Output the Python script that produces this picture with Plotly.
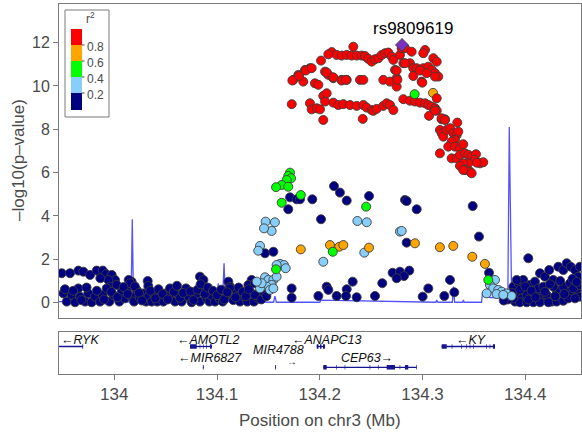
import plotly.graph_objects as go

# ---------------- data ----------------
lead_snp = "rs9809619"
lead_x = [134.2800]
lead_y = [11.89]

red_x = [134.2326, 134.2116, 134.2083, 134.2164, 134.2213, 134.2262, 134.2310, 134.2359, 134.2408, 134.2440,
         134.2472, 134.2505, 134.2537, 134.2570, 134.2603, 134.2635, 134.2667, 134.2700, 134.2716, 134.2780,
         134.2012, 134.1904, 134.1856, 134.1791, 134.1742, 134.1839, 134.2051, 134.2083, 134.2131, 134.2213,
         134.2262, 134.2391, 134.2424, 134.2618, 134.2683, 134.2748, 134.2732, 134.2813, 134.2877, 134.2910,
         134.2943, 134.2975, 134.3007, 134.3056, 134.3089, 134.3121, 134.3153, 134.2991, 134.2797, 134.2829,
         134.2894, 134.3024, 134.3007, 134.3105, 134.3138, 134.1953, 134.1986, 134.2910, 134.2998,
         134.1727, 134.1904, 134.1921, 134.1970, 134.2002, 134.2034, 134.2067, 134.2051, 134.2131, 134.2180,
         134.2229, 134.2294, 134.2359, 134.2424, 134.2456, 134.2505, 134.2521, 134.2553, 134.2618, 134.2651,
         134.2683, 134.2716, 134.2034, 134.2418,
         134.1733, 134.1798, 134.1863, 134.1921, 134.2067, 134.2131, 134.2213, 134.2255, 134.2748, 134.2755,
         134.2748, 134.2829, 134.2975, 134.3040, 134.3121,
         134.2813, 134.2877, 134.2926, 134.2975, 134.3024, 134.3056, 134.3089, 134.3121, 134.3138, 134.3138,
         134.3063, 134.3186, 134.3218, 134.3338,
         134.3121, 134.3186, 134.3218, 134.3169, 134.3186, 134.3202, 134.3234, 134.3267, 134.3299, 134.3332,
         134.3348, 134.3315, 134.3283, 134.3250, 134.3315, 134.3364, 134.3396, 134.3169, 134.3283, 134.3332,
         134.3364, 134.3413, 134.3445, 134.3478, 134.3520, 134.3510, 134.3559, 134.3591, 134.3445, 134.3396,
         134.3364, 134.3413, 134.3461, 134.3478, 134.3527, 134.3396]
red_y = [11.81, 11.56, 11.46, 11.43, 11.40, 11.43, 11.40, 11.40, 11.40, 11.38,
         11.25, 11.12, 11.23, 11.28, 11.43, 11.51, 11.54, 11.35, 11.20, 11.43,
         11.17, 10.82, 10.74, 10.51, 10.28, 10.20, 10.66, 10.51, 10.36, 10.28,
         10.28, 10.28, 10.28, 10.28, 10.20, 10.36, 10.74, 11.05, 11.05, 10.82,
         10.82, 10.74, 10.82, 10.89, 10.74, 10.59, 10.43, 10.20, 11.74, 11.74,
         11.58, 11.66, 11.51, 11.28, 11.12, 10.12, 10.05, 10.46, 10.15,
         9.16, 9.20, 8.92, 8.97, 8.92, 9.54, 9.66, 9.28, 9.23, 9.12,
         9.16, 9.12, 9.08, 9.12, 9.00, 8.89, 8.85, 8.94, 9.08, 9.20,
         9.12, 8.89, 8.43, 8.48,
         10.25, 10.46, 10.71, 10.82, 10.62, 10.40, 10.25, 10.28, 9.97, 10.28,
         10.71, 11.05, 10.71, 10.59, 10.43,
         9.39, 9.32, 9.28, 9.23, 9.20, 9.12, 9.05, 8.97, 8.86, 9.43,
         8.62, 8.46, 8.46, 8.31,
         8.86, 8.51, 8.43, 7.97, 7.82, 7.66, 7.97, 8.05, 7.82, 7.74,
         7.89, 7.51, 7.43, 7.20, 7.20, 7.12, 7.31, 6.89, 6.66, 6.66,
         6.82, 6.89, 6.82, 6.74, 6.85, 6.59, 6.43, 6.48, 6.43, 6.43,
         6.31, 6.12, 6.05, 5.97, 6.46, 6.12]

orange_x = [134.1815, 134.2099, 134.2190, 134.2229, 134.2479, 134.2926, 134.3169, 134.3299, 134.3484, 134.3607, 134.3102]
orange_y = [2.46, 2.66, 2.58, 2.66, 2.54, 2.74, 2.56, 2.62, 2.12, 1.79, 9.68]

green_x = [134.2923, 134.1710, 134.1693, 134.1720, 134.1678, 134.1629, 134.1574, 134.1693, 134.1629, 134.1574,
           134.1815, 134.2451, 134.2126, 134.3640]
green_y = [9.62, 6.00, 5.85, 5.74, 5.66, 5.43, 5.33, 5.35, 4.61, 1.54,
           4.97, 4.43, 2.35, 1.05]

lightblue_x = [134.1473, 134.1563, 134.1531, 134.1457, 134.1418, 134.1401, 134.1612, 134.1651, 134.1668, 134.1580,
               134.1467, 134.1500, 134.1548, 134.1580, 134.1531, 134.1483, 134.1418, 134.1434, 134.1515, 134.1548,
               134.1386, 134.2366, 134.2457, 134.2780, 134.2797, 134.2433, 134.2034, 134.3705, 134.3656, 134.3688,
               134.3737, 134.3770, 134.3818, 134.3867, 134.3624, 134.3721, 134.3786]
lightblue_y = [3.74, 3.71, 3.31, 3.43, 2.62, 2.40, 1.79, 1.74, 1.59, 1.74,
               1.17, 1.05, 1.05, 1.20, 0.82, 0.74, 0.66, 0.90, 0.59, 0.66,
               0.97, 3.77, 3.71, 3.28, 3.31, 2.31, 1.89, 1.05, 0.82, 0.66,
               0.59, 0.51, 0.43, 0.31, 0.43, 0.40, 0.36]

navy_x = [
    # middle region
    134.1710, 134.1775, 134.1693, 134.1467, 134.1548, 134.1726, 134.1726, 134.1807, 134.1927, 134.2138,
    134.2196, 134.2262, 134.2479, 134.2829, 134.2845, 134.2943, 134.2012, 134.3488, 134.3549, 134.2845,
    134.4029, 134.2709, 134.2780, 134.2871, 134.2819, 134.2748, 134.2320, 134.2608, 134.3267, 134.3647,
    134.2067, 134.2262, 134.3056, 134.3309, 134.1986, 134.2164, 134.2255, 134.2359, 134.2537, 134.3001,
    134.3212, 134.2083,
    # left upper band
    133.9488, 133.9569, 133.9650, 133.9699, 133.9764, 133.9829, 133.9888, 133.9920, 133.9975, 134.0007,
    133.9942, 133.9958, 133.9864, 134.0169, 134.0140, 134.0325, 134.0331, 134.0834, 134.0867, 134.1110,
    134.1126, 134.1337, 134.1305, 134.1369,
    # left lower band
    133.9504, 133.9537, 133.9585, 133.9618, 133.9650, 133.9667, 133.9715, 133.9747, 133.9780, 133.9812,
    133.9861, 133.9888, 133.9926, 133.9952, 133.9990, 134.0023, 134.0049, 134.0072, 134.0104, 134.0121,
    134.0153, 134.0169, 134.0192, 134.0218, 134.0250, 134.0282, 134.0309, 134.0331, 134.0364, 134.0386,
    134.0418, 134.0445, 134.0477, 134.0503, 134.0542, 134.0568, 134.0591, 134.0623, 134.0656, 134.0698,
    134.0720, 134.0753, 134.0795, 134.0834, 134.0860, 134.0899, 134.0925, 134.0948, 134.0980, 134.1022,
    134.1055, 134.1094, 134.1126, 134.1158, 134.1191, 134.1223, 134.1262, 134.1294, 134.1337, 134.1359,
    134.1401, 134.1450,
    133.9520, 133.9600, 133.9680, 133.9730, 133.9830, 133.9900, 133.9970, 134.0030, 134.0090, 134.0130,
    134.0200, 134.0240, 134.0270, 134.0350, 134.0400, 134.0430, 134.0470, 134.0520, 134.0580, 134.0610,
    134.0640, 134.0670, 134.0740, 134.0770, 134.0810, 134.0840, 134.0880, 134.0910, 134.0960, 134.1000,
    134.1040, 134.1070, 134.1100, 134.1180, 134.1210, 134.1250, 134.1280, 134.1310, 134.1370, 134.1430,
    134.1480,
    # right cluster
    134.3883, 134.3932, 134.3980, 134.4045, 134.4094, 134.4143, 134.4191, 134.4233, 134.4272, 134.4321,
    134.4370, 134.4403, 134.4442, 134.4484, 134.4516, 134.4532, 134.3916, 134.3965, 134.4014, 134.4062,
    134.4111, 134.4160, 134.4208, 134.4257, 134.4305, 134.4354, 134.4403, 134.4451, 134.4500, 134.4532,
    134.3900, 134.3948, 134.4014, 134.4078, 134.4143, 134.4224, 134.4305, 134.4370, 134.4419, 134.4484,
    134.4127, 134.4175, 134.4272, 134.4370, 134.4435, 134.4467, 134.4532, 134.3916, 134.3883,
    134.3870, 134.3950, 134.4000, 134.4030, 134.4060, 134.4100, 134.4190, 134.4240, 134.4290, 134.4340,
    134.4380, 134.4460, 134.4500, 134.3830, 134.3790]
navy_y = [
    4.86, 4.77, 4.31, 2.28, 2.35, 0.66, 0.23, 4.77, 4.77, 5.38,
    5.08, 4.71, 4.92, 4.74, 4.69, 4.31, 3.85, 4.46, 3.05, 2.77,
    2.05, 1.38, 1.43, 1.48, 1.23, 1.13, 0.97, 0.90, 1.05, 1.38,
    0.74, 0.62, 0.66, 0.48, 0.31, 0.31, 0.31, 0.25, 0.31, 0.28,
    0.31, 0.59,
    1.36, 1.36, 1.48, 1.43, 1.28, 1.48, 1.48, 1.32, 1.28, 1.05,
    1.05, 0.74, 1.13, 0.97, 1.05, 1.00, 0.77, 1.20, 1.05, 0.97,
    0.74, 1.05, 0.82, 0.90,
    0.43, 0.05, 0.36, 0.02, 0.66, 0.28, 0.05, 0.43, 0.02, 0.28,
    0.05, 0.36, 0.66, 0.05, 0.36, 0.82, 0.05, 0.51, 0.20, 0.59,
    0.90, 0.28, 0.05, 0.59, 0.20, 0.43, 0.05, 0.28, 0.05, 0.43,
    0.05, 0.28, 0.05, 0.43, 0.66, 0.20, 0.05, 0.36, 0.05, 0.66,
    0.28, 0.02, 0.36, 0.05, 0.51, 0.20, 0.05, 0.31, 0.05, 0.20,
    0.05, 0.36, 0.66, 0.12, 0.43, 0.05, 0.28, 0.05, 0.43, 0.05,
    0.20, 0.43,
    0.62, 0.55, 0.12, 0.70, 0.55, 0.15, 0.50, 0.25, 0.72, 0.40,
    0.75, 0.45, 0.10, 0.55, 0.20, 0.62, 0.40, 0.15, 0.50, 0.78,
    0.22, 0.45, 0.52, 0.12, 0.60, 0.85, 0.40, 0.70, 0.55, 0.35,
    0.60, 0.15, 0.48, 0.25, 0.70, 0.50, 0.30, 0.62, 0.35, 0.15,
    0.30,
    0.74, 0.90, 1.05, 0.82, 0.97, 1.36, 1.20, 1.51, 1.05, 1.66,
    1.51, 1.82, 1.66, 1.51, 1.20, 1.66, 0.43, 0.20, 0.36, 0.12,
    0.43, 0.20, 0.36, 0.05, 0.59, 0.28, 0.51, 0.36, 0.59, 0.28,
    0.05, 0.02, 0.02, 0.02, 0.02, 0.02, 0.05, 0.09, 0.20, 0.20,
    0.66, 0.74, 0.74, 0.74, 0.90, 0.66, 0.82, 1.05, 0.20,
    0.45, 0.60, 0.75, 0.15, 0.55, 0.25, 0.50, 0.85, 0.30, 1.00,
    0.40, 1.10, 0.95, 0.15, 0.10]

# recombination-rate line (drawn on the -log10 scale as it appears)
recomb_pos = [133.9462, 133.9861, 133.9954, 133.9962, 133.9970, 134.0163, 134.0175, 134.0187, 134.0999, 134.1012,
              134.1024, 134.1053, 134.1068, 134.1082, 134.1320, 134.1418, 134.1550, 134.1563, 134.1577, 134.1900,
              134.2000, 134.2010, 134.3130, 134.3138, 134.3150, 134.3290, 134.3301, 134.3312, 134.3390, 134.3397,
              134.3405, 134.3574, 134.3585, 134.3598, 134.3627, 134.3656, 134.3753, 134.3830, 134.3844, 134.3867,
              134.3900, 134.4140, 134.4420, 134.4432, 134.4445, 134.4542]
recomb_level = [0.05, 0.05, 0.06, 1.00, 0.06, 0.03, 3.85, 0.03, 0.05, 0.90,
                0.05, 0.05, 1.82, 0.05, 0.03, 0.02, 0.02, 0.30, 0.02, 0.02,
                0.02, 0.12, 0.02, 0.12, 0.02, 0.02, 0.74, 0.02, 0.02, 0.12,
                0.02, 0.02, 0.50, 0.28, 0.29, 0.24, 0.22, 0.22, 8.10, 0.22,
                0.16, 0.14, 0.12, 0.26, 0.12, 0.12]

# genes
gene_names = ["RYK", "AMOTL2", "ANAPC13", "KY", "MIR6827", "MIR4788", "CEP63"]
gene_start = [133.9000, 134.0737, 134.1970, 134.3186, 134.0862, 134.1566, 134.2034]
gene_end = [133.9695, 134.0951, 134.2050, 134.3705, 134.0870, 134.1574, 134.2943]
gene_strand = ["-", "-", "-", "-", "-", "+", "+"]
gene_row = [0, 0, 0, 0, 1, 1, 1]
gene_exons = [
    [(133.9689, 133.9697)],
    [(134.0737, 134.0802), (134.0831, 134.0837), (134.0863, 134.0869), (134.0896, 134.0902), (134.0931, 134.0948)],
    [(134.1970, 134.1987), (134.2002, 134.2016), (134.2031, 134.2050)],
    [(134.3186, 134.3235), (134.3284, 134.3290), (134.3378, 134.3384), (134.3427, 134.3433), (134.3459, 134.3465),
     (134.3491, 134.3497), (134.3621, 134.3627), (134.3653, 134.3659), (134.3685, 134.3705)],
    [(134.0862, 134.0870)],
    [(134.1566, 134.1574)],
    [(134.2034, 134.2067), (134.2161, 134.2167), (134.2242, 134.2248), (134.2485, 134.2491), (134.2566, 134.2572),
     (134.2651, 134.2732), (134.2777, 134.2783), (134.2829, 134.2861), (134.2937, 134.2943)],
]
gene_label_x = [133.9667, 134.0913, 134.2073, 134.3478, 134.0936, 134.1600, 134.2456]

x_ticks = [134.0, 134.1, 134.2, 134.3, 134.4]
x_tick_labels = ["134", "134.1", "134.2", "134.3", "134.4"]
y_ticks = [0, 2, 4, 6, 8, 10, 12]
legend_labels = ["0.8", "0.6", "0.4", "0.2"]

# ---------------- styles ----------------
W, H = 582, 433
ML, MR, MT, MB = 59, 1, 4, 59
PW, PH = W - ML - MR, H - MT - MB


def fx(px):
    return (px - ML) / PW


def fy(py):
    return (H - MB - py) / PH


X_RANGE = [133.94618, 134.45421]
AX_COL = "#7a7a7a"
TXT_COL = "#4a4a4a"
FONT = "Liberation Sans, Arial, sans-serif"
COLORS = {"navy": "#000080", "lb": "#87CEFA", "green": "#00FF00", "orange": "#FFA500", "red": "#FF0000",
          "lead": "#7B2FBE"}
GENE_COL = "#15158f"

fig = go.Figure()

fig.add_trace(go.Scatter(x=recomb_pos, y=recomb_level, mode="lines",
                         line=dict(color="rgba(40,40,255,0.8)", width=1.3),
                         xaxis="x", yaxis="y", hoverinfo="skip", showlegend=False))


def add_pts(xs, ys, col, sym="circle", size=9):
    fig.add_trace(go.Scatter(x=xs, y=ys, mode="markers", xaxis="x", yaxis="y", showlegend=False,
                             marker=dict(color=col, size=size, symbol=sym,
                                         line=dict(color="#3c3c3c", width=0.9))))


add_pts(navy_x, navy_y, COLORS["navy"])
add_pts(lightblue_x, lightblue_y, COLORS["lb"])
add_pts(orange_x, orange_y, COLORS["orange"])
add_pts(red_x, red_y, COLORS["red"])
add_pts(green_x, green_y, COLORS["green"])
add_pts(lead_x, lead_y, COLORS["lead"], sym="diamond", size=10)


def ann(x, y, text, size, color, xref="paper", yref="paper", xanchor="center", yanchor="middle", angle=0):
    fig.add_annotation(x=x, y=y, xref=xref, yref=yref, text=text, showarrow=False, xanchor=xanchor,
                       yanchor=yanchor, textangle=angle, font=dict(size=size, color=color, family=FONT))


# gene track
ROW_LINE = [0.655, 0.16]
ROW_LABEL = [0.81, 0.38]
for i, name in enumerate(gene_names):
    r = gene_row[i]
    fig.add_trace(go.Scatter(x=[gene_start[i], gene_end[i]], y=[ROW_LINE[r]] * 2, mode="lines",
                             line=dict(color=GENE_COL, width=1.3), xaxis="x2", yaxis="y2",
                             showlegend=False, hoverinfo="skip"))
    ex, ey = [], []
    for (a, b) in gene_exons[i]:
        ex += [a, b, None]
        ey += [ROW_LINE[r], ROW_LINE[r], None]
    fig.add_trace(go.Scatter(x=ex, y=ey, mode="lines", line=dict(color=GENE_COL, width=4.5),
                             xaxis="x2", yaxis="y2", showlegend=False, hoverinfo="skip"))
    if name == "MIR4788":
        ann(gene_label_x[i], 0.56, "<i>MIR4788</i>", 12.5, "#111", "x2", "y2")
        ann(134.1725, 0.30, "→", 10, "#111", "x2", "y2")
        continue
    label = ("←" + name) if gene_strand[i] == "-" else (name + "→")
    ann(gene_label_x[i], ROW_LABEL[r], "<i>" + label + "</i>", 12.5, "#111", "x2", "y2")

# lead SNP label
ann(fx(413.3), fy(29), lead_snp, 17, "black")

# axis titles
ann(fx(18), fy(160), "–log10(p–value)", 17, TXT_COL, angle=-90)
ann(fx(320), fy(420), "Position on chr3 (Mb)", 17, TXT_COL)

# r2 legend
shapes = [dict(type="rect", xref="paper", yref="paper", x0=fx(65), x1=fx(109), y0=fy(117), y1=fy(10),
               line=dict(color=AX_COL, width=1), fillcolor="white", layer="below")]
sw_cols = [COLORS["red"], COLORS["orange"], COLORS["green"], COLORS["lb"], COLORS["navy"]]
sw_edges = [29, 45, 61, 77, 93, 110]
for k, c in enumerate(sw_cols):
    shapes.append(dict(type="rect", xref="paper", yref="paper", x0=fx(71), x1=fx(82),
                       y0=fy(sw_edges[k + 1]), y1=fy(sw_edges[k]), line=dict(width=0), fillcolor=c))
for k, lab in enumerate(legend_labels):
    yy = sw_edges[k + 1]
    shapes.append(dict(type="line", xref="paper", yref="paper", x0=fx(82), x1=fx(84.5), y0=fy(yy), y1=fy(yy),
                       line=dict(color=TXT_COL, width=1)))
    ann(fx(85), fy(yy + 1.5), lab, 12, TXT_COL, xanchor="left")
ann(fx(90), fy(18), "r<sup>2</sup>", 12, TXT_COL)

fig.update_layout(
    width=W, height=H, margin=dict(l=ML, r=MR, t=MT, b=MB, pad=0),
    paper_bgcolor="white", plot_bgcolor="white", showlegend=False,
    font=dict(family=FONT, color=TXT_COL),
    shapes=shapes,
    xaxis=dict(domain=[0, 1], anchor="y", range=X_RANGE, showline=True, mirror=True, linecolor=AX_COL,
               linewidth=1, ticks="", showticklabels=False, showgrid=False, zeroline=False),
    yaxis=dict(domain=[fy(317.7), 1], anchor="x", range=[-0.692, 13.78], tickvals=y_ticks,
               ticks="outside", ticklen=5, tickcolor=AX_COL, showline=True, mirror=True, linecolor=AX_COL,
               linewidth=1, showgrid=False, zeroline=False, tickfont=dict(size=16, color=TXT_COL)),
    xaxis2=dict(domain=[0, 1], anchor="y2", matches="x", range=X_RANGE, tickvals=x_ticks,
                ticktext=x_tick_labels, ticks="outside", ticklen=5, tickcolor=AX_COL, showline=True,
                mirror=True, linecolor=AX_COL, linewidth=1, showgrid=False, zeroline=False,
                tickfont=dict(size=17, color=TXT_COL)),
    yaxis2=dict(domain=[0, fy(332)], anchor="x2", range=[0, 1], showline=True, mirror=True,
                linecolor=AX_COL, linewidth=1, ticks="", showticklabels=False, showgrid=False, zeroline=False),
)

fig.write_html("out.html", config={"displayModeBar": False},
               post_script="document.body.style.margin='0px';")
